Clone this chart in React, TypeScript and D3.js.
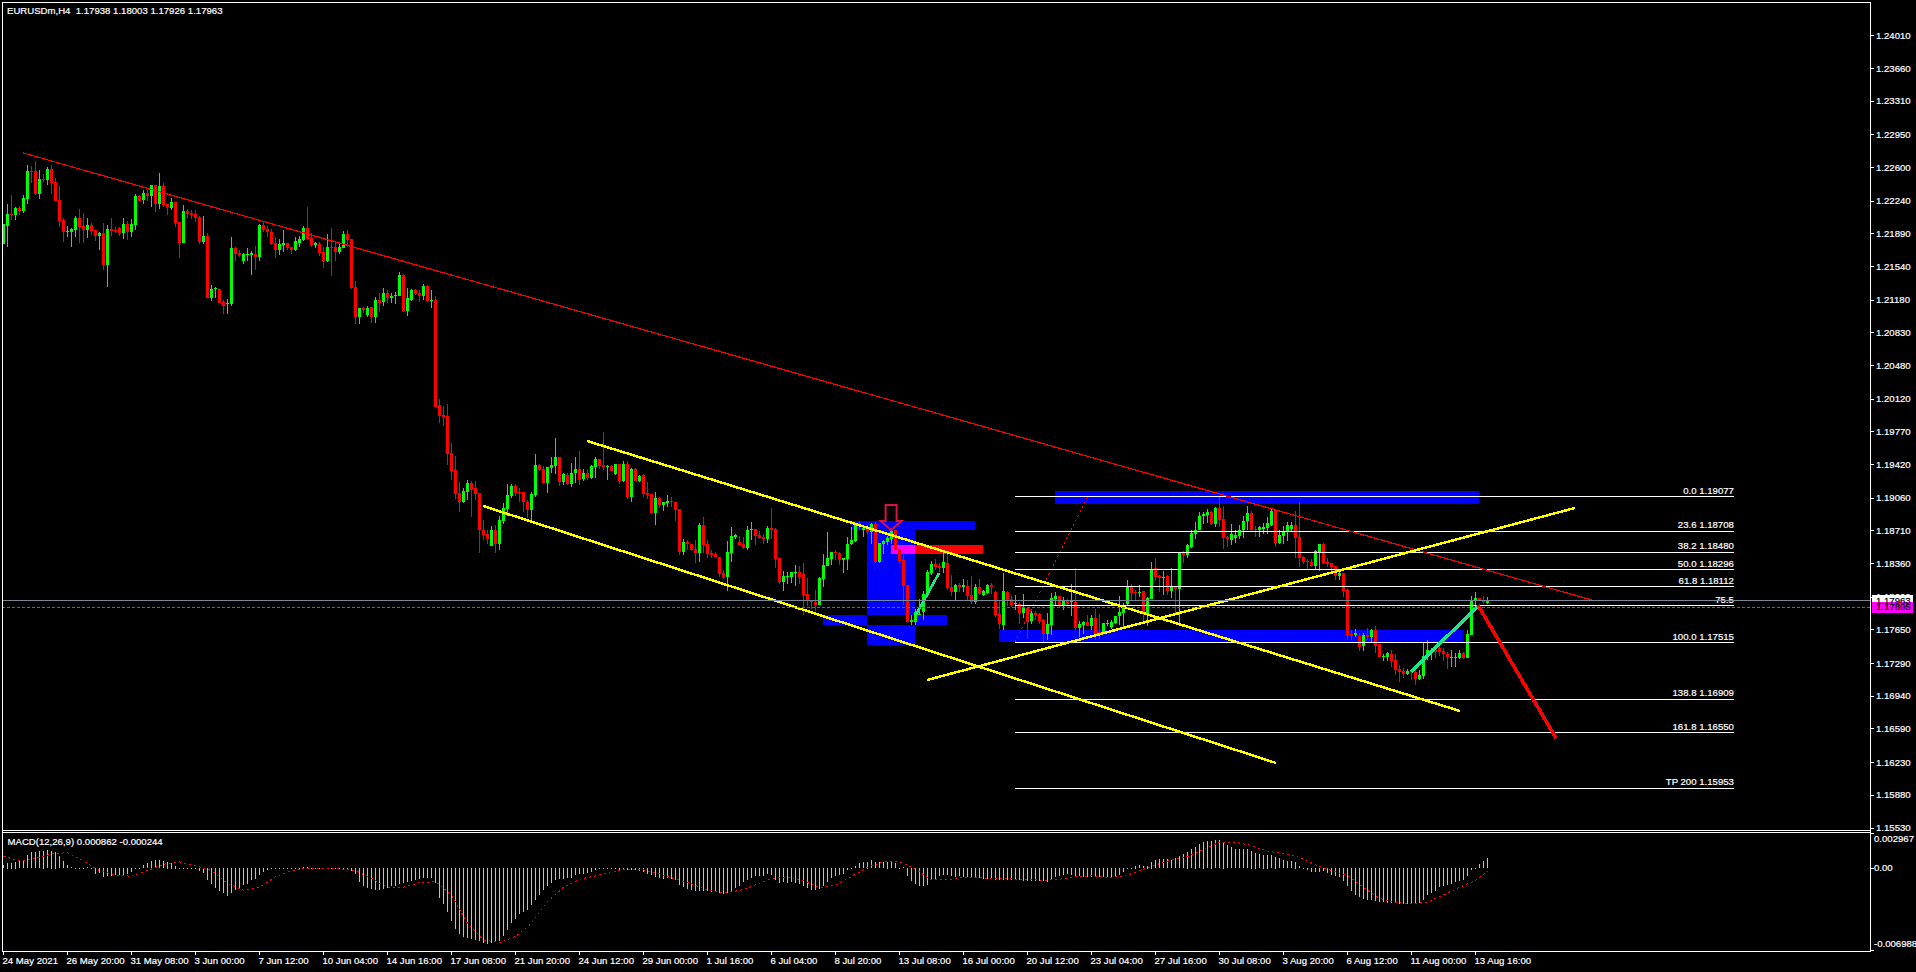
import React from 'react';
import * as d3 from 'd3';

// OHLC of each H4 bar, in pips (12199 = 1.2199)
const opens = [
  12178,12197,12210,12209,12216,12213,12226,12256,12256,12231,
  12247,12246,12258,12244,12225,12203,12191,12191,12193,12206,
  12197,12193,12198,12193,12186,12189,12155,12194,12193,12195,
  12189,12199,12190,12198,12229,12225,12232,12229,12241,12221,
  12240,12220,12216,12223,12201,12179,12213,12211,12210,12207,
  12180,12186,12120,12129,12130,12116,12113,12113,12173,12168,
  12159,12166,12166,12167,12164,12198,12194,12191,12179,12171,
  12177,12179,12174,12171,12179,12182,12195,12184,12177,12178,
  12169,12160,12174,12174,12169,12173,12188,12183,12132,12099,
  12109,12102,12110,12099,12118,12116,12125,12120,12122,12122,
  12145,12106,12118,12128,12125,12122,12133,12117,12118,
  12005,11995,11994,11954,11936,11911,11902,11912,11922,11916,
  11911,11872,11867,11854,11871,11856,11881,11894,11908,11919,
  11912,11912,11902,11893,11909,11941,11937,11922,11938,11940,
  11950,11923,11930,11921,11932,11937,11926,11933,11927,11939,
  11948,11941,11939,11940,11931,11942,11924,11942,11907,11937,
  11924,11930,11911,11910,11890,11906,11898,11900,11903,11901,
  11894,11848,11859,11857,11851,11847,11877,11856,11847,11846,
  11843,11825,11821,11847,11864,11859,11857,11852,11872,11873,
  11866,11864,11862,11874,11873,11841,11816,11821,11821,11825,
  11826,11824,11803,11796,11794,11791,11819,11833,11840,11848,
  11847,11839,11840,11856,11860,11879,11872,11873,11869,11878,
  11837,11857,11859,11862,11871,11851,11839,11813,11773,11773,
  11781,11784,11802,11825,11835,11833,11831,11836,11811,11805,
  11813,11811,11812,11802,11794,11810,11802,11804,11813,11805,
  11782,11770,11805,11798,11792,11792,11783,11788,11774,11783,
  11782,11775,11760,11770,11798,11801,11791,11797,11794,11794,
  11767,11770,11773,11769,11777,11762,11761,11771,11768,11772,
  11779,11783,11792,11811,11805,11804,11806,11782,11798,11831,
  11822,11820,11822,11806,11811,11808,11848,11845,11853,11867,
  11872,11886,11888,11891,11878,11895,11883,11864,11861,11863,
  11865,11872,11881,11890,11873,11872,11873,11874,11877,11893,
  11858,11865,11870,11873,11877,11864,11843,11838,11837,11833,
  11848,11856,11837,11836,11833,11822,11825,11807,11760,11759,
  11758,11747,11759,11757,11764,11749,11735,11736,11739,11732,
  11723,11721,11717,11721,11719,11712,11715,11736,11741,11745,
  11745,11742,11739,11735,11735,11734,11740,11734,11759,11795,
  11799,11796,11793.8,
];
const highs = [
  12199,12220,12230,12217,12218,12230,12262,12261,12267,12257,
  12253,12260,12262,12248,12240,12205,12197,12195,12208,12215,
  12211,12205,12200,12193,12191,12200,12198,12205,12196,12196,
  12205,12202,12204,12231,12230,12235,12236,12241,12241,12254,
  12243,12221,12227,12223,12201,12219,12215,12214,12214,12208,
  12208,12189,12134,12132,12130,12118,12119,12185,12175,12171,
  12168,12173,12170,12176,12199,12201,12197,12194,12185,12183,
  12193,12179,12175,12185,12186,12197,12217,12189,12180,12180,
  12174,12188,12195,12180,12178,12192,12193,12183,12138,12109,
  12110,12111,12110,12121,12125,12131,12128,12125,12126,12148,
  12146,12131,12130,12130,12128,12135,12134,12128,12122,
  12012,12004,12006,11965,11951,11923,11916,11925,11924,11924,
  11911,11882,11872,11876,11877,11886,11900,11921,11921,11921,
  11916,11912,11904,11912,11953,11942,11940,11939,11950,11970,
  11950,11933,11932,11943,11950,11956,11937,11936,11941,11950,
  11948,11976,11941,11941,11942,11942,11945,11945,11938,11938,
  11930,11931,11923,11910,11912,11907,11902,11909,11907,11902,
  11894,11862,11861,11857,11861,11879,11885,11861,11850,11848,
  11843,11829,11860,11875,11867,11865,11864,11876,11880,11873,
  11870,11867,11876,11895,11874,11841,11828,11826,11826,11834,
  11833,11836,11820,11797,11807,11821,11846,11869,11848,11850,
  11848,11842,11864,11875,11879,11881,11876,11877,11879,11880,
  11858,11861,11865,11871,11871,11852,11851,11813,11780,11787,
  11798,11806,11829,11838,11840,11836,11847,11847,11823,11814,
  11815,11819,11818,11822,11814,11819,11807,11814,11815,11806,
  11797,11825,11806,11801,11802,11794,11803,11788,11785,11785,
  11783,11776,11783,11804,11805,11801,11800,11798,11814,11831,
  11774,11774,11781,11781,11787,11782,11772,11775,11775,11779,
  11801,11793,11818,11814,11807,11813,11806,11800,11837,11842,
  11823,11828,11823,11831,11811,11848,11849,11857,11872,11880,
  11891,11891,11894,11892,11896,11908,11897,11865,11878,11871,
  11877,11887,11897,11892,11876,11876,11879,11885,11894,11893,
  11871,11876,11880,11880,11892,11901,11844,11840,11840,11850,
  11857,11858,11841,11836,11833,11827,11825,11809,11764,11765,
  11761,11761,11767,11766,11769,11749,11739,11741,11743,11739,
  11727,11724,11723,11722,11722,11722,11750,11754,11745,11748,
  11747,11745,11741,11743,11740,11743,11741,11764,11801,11805,
  11799,11801,11800.3,
];
const lows = [
  12178,12174,12203,12203,12209,12211,12220,12243,12230,12226,
  12244,12241,12231,12224,12196,12180,12185,12175,12185,12179,
  12179,12184,12187,12181,12171,12150,12132,12186,12189,12186,
  12183,12182,12185,12193,12224,12220,12224,12217,12212,12215,
  12217,12209,12214,12196,12163,12179,12205,12204,12201,12178,
  12178,12120,12117,12120,12114,12103,12103,12111,12160,12164,
  12156,12159,12144,12150,12160,12191,12185,12177,12163,12166,
  12169,12171,12167,12170,12175,12181,12182,12174,12173,12165,
  12152,12158,12143,12160,12167,12173,12174,12129,12092,12092,
  12104,12100,12093,12093,12105,12111,12115,12115,12113,12122,
  12105,12101,12117,12123,12116,12118,12116,12109,12003,
  11986,11983,11941,11925,11905,11891,11900,11904,11885,11904,
  11847,11861,11857,11854,11847,11850,11878,11886,11906,11908,
  11901,11891,11884,11882,11907,11935,11921,11911,11932,11931,
  11919,11920,11920,11917,11922,11920,11924,11925,11926,11927,
  11937,11936,11925,11935,11930,11921,11923,11905,11902,11924,
  11923,11907,11905,11889,11877,11895,11892,11896,11896,11881,
  11845,11845,11850,11849,11836,11837,11847,11841,11841,11841,
  11821,11819,11806,11837,11862,11855,11851,11850,11861,11855,
  11862,11857,11858,11862,11831,11814,11806,11814,11815,11812,
  11814,11781,11790,11787,11785,11791,11810,11833,11834,11839,
  11834,11825,11829,11855,11859,11872,11864,11867,11856,11836,
  11836,11846,11855,11857,11850,11835,11791,11772,11770,11770,
  11780,11775,11801,11823,11829,11826,11825,11807,11801,11797,
  11805,11805,11797,11792,11792,11802,11801,11803,11803,11778,
  11765,11764,11790,11789,11786,11771,11777,11755,11771,11775,
  11771,11751,11754,11759,11791,11789,11786,11791,11779,11764,
  11757,11760,11769,11764,11754,11755,11760,11769,11766,11771,
  11770,11767,11791,11797,11796,11800,11773,11769,11798,11817,
  11805,11802,11802,11799,11783,11772,11836,11841,11852,11862,
  11871,11878,11879,11877,11875,11875,11851,11853,11855,11858,
  11862,11863,11872,11871,11864,11864,11867,11867,11876,11853,
  11857,11857,11860,11870,11842,11832,11835,11830,11832,11829,
  11828,11835,11832,11827,11818,11818,11800,11754,11754,11757,
  11742,11742,11754,11752,11740,11735,11731,11731,11725,11716,
  11709,11713,11716,11711,11706,11711,11712,11732,11732,11734,
  11737,11731,11723,11725,11725,11733,11733,11734,11759,11790,
  11795,11792,11792.6,
];
const closes = [
  12199,12210,12209,12216,12213,12227,12256,12255,12231,12247,
  12246,12258,12243,12224,12202,12191,12192,12194,12206,12196,
  12193,12198,12192,12186,12189,12155,12194,12192,12192,12189,
  12199,12190,12199,12229,12224,12232,12229,12241,12221,12240,
  12219,12217,12223,12200,12179,12213,12210,12209,12206,12180,
  12186,12120,12130,12131,12115,12111,12114,12173,12167,12166,
  12167,12167,12168,12164,12198,12193,12190,12178,12171,12178,
  12179,12173,12171,12181,12183,12195,12183,12177,12179,12168,
  12160,12175,12173,12169,12174,12188,12182,12131,12099,12109,
  12107,12109,12099,12118,12115,12125,12120,12122,12123,12145,
  12106,12120,12128,12124,12122,12133,12117,12118,12003,
  11994,11993,11953,11935,11910,11902,11913,11922,11914,11910,
  11871,11866,11862,11871,11856,11882,11895,11909,11919,11911,
  11911,11901,11893,11910,11941,11936,11922,11939,11941,11950,
  11923,11931,11921,11933,11937,11925,11933,11927,11940,11948,
  11940,11939,11940,11935,11942,11924,11942,11907,11937,11924,
  11929,11910,11909,11890,11906,11898,11901,11903,11901,11893,
  11848,11859,11856,11850,11847,11877,11855,11846,11845,11843,
  11824,11821,11848,11865,11866,11855,11852,11872,11873,11865,
  11863,11862,11874,11872,11840,11816,11822,11822,11826,11826,
  11821,11802,11795,11794,11791,11820,11834,11841,11848,11847,
  11839,11841,11856,11861,11878,11876,11874,11869,11878,11837,
  11858,11860,11863,11870,11850,11838,11812,11773,11775,11784,
  11782,11803,11826,11835,11832,11831,11837,11809,11805,11813,
  11811,11813,11801,11794,11810,11803,11806,11813,11811,11781,
  11771,11806,11797,11791,11793,11783,11788,11773,11783,11781,
  11774,11760,11771,11799,11801,11791,11797,11792,11795,11767,
  11771,11773,11769,11777,11760,11760,11772,11772,11773,11779,
  11784,11789,11811,11804,11804,11805,11783,11799,11829,11821,
  11820,11821,11806,11812,11808,11848,11845,11855,11868,11872,
  11886,11889,11891,11878,11895,11882,11863,11862,11867,11866,
  11872,11881,11890,11872,11872,11875,11875,11879,11892,11858,
  11866,11870,11877,11877,11863,11842,11837,11837,11833,11849,
  11856,11836,11835,11832,11822,11825,11806,11759,11758,11761,
  11746,11759,11757,11764,11747,11735,11737,11740,11731,11722,
  11720,11717,11721,11719,11712,11716,11737,11743,11743,11741,
  11741,11739,11735,11736,11736,11740,11734,11760,11796,11799,
  11795,11794,11796.3,
];

// MACD main histogram per bar, millionths
const macdMain = [
  284,482,482,567,624,709,1134,1361,1361,1475,1503,1560,1503,1418,1049,624,284,85,57,28,
  57,85,0,-482,-425,-794,-709,-652,-624,-596,-596,-510,-312,-85,0,284,425,624,681,681,
  624,567,482,227,57,28,57,0,-28,-255,-425,-993,-1361,-1702,-1985,-2155,-2411,-2127,-1900,-1702,
  -1418,-1333,-1049,-908,-624,-369,-142,-85,-85,-57,-28,-28,-85,0,57,113,85,28,-57,-85,
  -113,-85,-85,-85,-57,-28,-85,-227,-510,-1219,-1503,-1702,-1815,-1843,-1843,-1758,-1702,-1560,-1503,-1333,
  -1276,-1191,-1106,-993,-908,-822,-822,-851,-1276,-2552,-3035,-3772,-4538,-5162,-5615,-5871,-5984,-6041,-6154,-6239,
  -6409,-6494,-6381,-6324,-6239,-5757,-5247,-4679,-4311,-3914,-3744,-3545,-3176,-2694,-2269,-1900,-1560,-1276,-1049,-936,
  -908,-879,-851,-624,-510,-510,-425,-369,-199,-113,-57,0,-57,0,-142,-85,-199,-142,-199,-284,
  -369,-482,-624,-794,-879,-908,-879,-936,-1049,-1418,-1617,-1758,-1872,-1929,-1929,-1929,-1985,-2042,-2070,-2127,
  -2212,-2127,-1985,-1730,-1503,-1219,-1049,-851,-709,-680,-709,-510,-624,-993,-1276,-1219,-1248,-1219,-1276,-1333,
  -1560,-1702,-1843,-1900,-1758,-1560,-1219,-851,-709,-567,-539,-199,-85,170,425,510,567,681,510,510,
  510,567,539,425,57,85,-652,-1078,-1333,-1560,-1560,-1418,-1049,-908,-652,-624,-624,-652,-766,-709,
  -766,-794,-794,-851,-851,-908,-908,-964,-993,-993,-993,-993,-993,-1021,-1049,-1078,-1078,-1078,-1106,-1134,
  -1134,-1163,-993,-766,-709,-567,-510,-567,-709,-709,-766,-766,-766,-766,-766,-766,-766,-766,-652,-567,
  -312,-28,28,227,284,198,227,567,709,794,794,766,709,851,1049,1219,1418,1617,1843,2042,
  2269,2326,2354,2382,2382,2184,1985,1787,1645,1617,1617,1617,1503,1333,1219,1163,1163,1134,993,851,
  709,624,624,567,198,0,-142,-312,-369,-369,-284,-454,-567,-652,-766,-1078,-1560,-1985,-2269,-2496,
  -2638,-2694,-2751,-2836,-2893,-2921,-2978,-2978,-3006,-3035,-3035,-3035,-3035,-3035,-2978,-2751,-2269,-2127,-1985,-1617,
  -1503,-1446,-1333,-1219,-1106,-993,-652,-199,-28,340,596,862,
];

// MACD signal read every 4th bar (last point is the final bar), millionths
const macdSignal = [
  1021,624,851,1219,1333,624,-199,-567,-681,-199,340,539,227,-199,-1276,-1872,-1617,-709,-199,0,
  -57,-57,-199,-851,-1645,-1617,-1219,-1134,-2269,-4679,-6097,-6324,-5814,-4679,-2836,-1617,-936,-652,-284,-85,
  -142,-482,-908,-1333,-1843,-2070,-1900,-1418,-851,-794,-1078,-1645,-1418,-709,85,539,567,-85,-993,-993,
  -766,-822,-851,-908,-964,-1021,-936,-709,-652,-766,-709,-199,284,709,993,1617,2212,2212,1928,1446,
  1276,936,284,-199,-624,-1645,-2552,-2921,-3006,-2893,-2269,-1617,-1049,-244,
];

const priceTicks = [
  1.2401,1.2366,1.2331,1.2295,1.226,1.2224,1.2189,1.2154,1.2118,1.2083,1.2048,1.2012,1.1977,
  1.1942,1.1906,1.1871,1.1836,1.18,1.1765,1.1729,1.1694,1.1659,1.1623,1.1588,1.1553,
];
const macdTicks = [
  { value: 0.002967, label: '0.002967' },
  { value: 0, label: '0.00' },
  { value: -0.006988, label: '-0.006988' },
];
const dateTicks = [
  '24 May 2021','26 May 20:00','31 May 08:00','3 Jun 00:00','7 Jun 12:00','10 Jun 04:00',
  '14 Jun 16:00','17 Jun 08:00','21 Jun 20:00','24 Jun 12:00','29 Jun 00:00','1 Jul 16:00',
  '6 Jul 04:00','8 Jul 20:00','13 Jul 08:00','16 Jul 00:00','20 Jul 12:00','23 Jul 04:00',
  '27 Jul 16:00','30 Jul 08:00','3 Aug 20:00','6 Aug 12:00','11 Aug 00:00','13 Aug 16:00',
];

// fibo levels
const fiboLabels = ['0.0 1.19077','23.6 1.18708','38.2 1.18480','50.0 1.18296','61.8 1.18112','75.5','100.0 1.17515','138.8 1.16909','161.8 1.16550','TP 200 1.15953'];
const fiboPrices = [1.19077,1.18708,1.1848,1.18296,1.18112,1.17912,1.17515,1.16909,1.1655,1.15953];
const fiboBars = [252.9, 432.6];

// chart objects as [bar, price]
const redTrend = [[4.9, 1.22752], [397.9, 1.17955]];
const channelUpper = [[145.9, 1.19668], [364.1, 1.16777]];
const channelLower = [[119.9, 1.18972], [318.1, 1.16221]];
const risingLine = [[230.9, 1.17109], [392.9, 1.18951]];
const greenSwingA = [[228.1, 1.17805], [233.9, 1.18255]];
const greenSwingB = [[351.9, 1.17195], [368.6, 1.17902]];
const redProjection = [[368.6, 1.17912], [388.1, 1.16488]];
const fiboDiagonal = [[252.9, 1.17515], [271.1, 1.19077]];

// zones: bar from, bar to, price top, price bottom
const blueZones = [
  [262.9, 368.9, 1.19133, 1.18997],
  [248.9, 364.9, 1.17645, 1.17516],
  [215.9, 227.9, 1.18726, 1.17484],
  [204.9, 235.9, 1.17805, 1.17698],
  [211.9, 242.9, 1.18812, 1.18715],
];
const redZone = [221.9, 244.9, 1.18555, 1.18458];
const sellArrow = { bar: 221.9, price: 1.18715 };

const bidPrice = 1.17963;
const askPrice = 1.17895;

const PLOT_LEFT = 2;
const AXIS_X = 1870;
const FONT = '"Liberation Sans", Arial, sans-serif';

const x = d3.scaleLinear().domain([0, 371]).range([3.5, 1487.5]);
const y = d3.scaleLinear().domain([1.1553, 1.2401]).range([827.5, 35.4]);
const yMacd = d3.scaleLinear().domain([-0.006988, 0.002967]).range([950.4, 833.4]);

const pathOf = d3.line<number[]>().x(d => x(d[0])).y(d => y(d[1]));
const signalPath = d3.line<number>()
  .x((_, i) => x(Math.min(i * 4, 371)))
  .y(d => yMacd(d / 1e6));

const Label: React.FC<{ x: number; y: number; anchor?: string; fill?: string; children: React.ReactNode }> = ({ x, y, anchor, fill, children }) => (
  <text x={x} y={y} textAnchor={anchor || 'start'} fill={fill || '#fff'} stroke={fill || '#fff'} strokeWidth={0.2} fontFamily={FONT} fontSize={9.6}>{children}</text>
);

export default function App() {
  const ay = (v: number) => Math.round(v);
  const arrowX = x(sellArrow.bar);
  const arrowY = y(sellArrow.price);
  return (
    <svg width={1916} height={972} style={{ position: 'absolute', left: 0, top: 0, background: '#000', display: 'block' }}>
      {/* zones, overlaps invert like the terminal's background objects */}
      <g style={{ isolation: 'isolate' }} shapeRendering="crispEdges">
        <rect x={0} y={0} width={1916} height={972} fill="#000" />
        {blueZones.map((z, i) => (
          <rect key={i} x={x(z[0])} y={y(z[2])} width={x(z[1]) - x(z[0])} height={y(z[3]) - y(z[2])} fill="#0000ff" style={{ mixBlendMode: 'difference' }} />
        ))}
        <rect x={x(redZone[0])} y={y(redZone[2])} width={x(redZone[1]) - x(redZone[0])} height={y(redZone[3]) - y(redZone[2])} fill="#ff0000" style={{ mixBlendMode: 'difference' }} />
      </g>

      {/* candles */}
      <g shapeRendering="crispEdges">
        {opens.map((o, i) => {
          const c = closes[i];
          const color = c >= o ? '#00ff00' : '#ff0000';
          const top = ay(y(Math.max(o, c) / 1e4));
          const bot = ay(y(Math.min(o, c) / 1e4));
          const hi = ay(y(highs[i] / 1e4));
          const lo = ay(y(lows[i] / 1e4));
          return (
            <g key={i} fill={color}>
              <rect x={x(i) - 0.5} y={hi} width={1} height={Math.max(lo - hi, 1)} />
              <rect x={x(i) - 1.5} y={top} width={3} height={Math.max(bot - top, 1)} />
            </g>
          );
        })}
      </g>

      {/* fibo */}
      <path d={pathOf(fiboDiagonal) || ''} stroke="#ff0000" strokeWidth={1} strokeDasharray="2,3" fill="none" shapeRendering="crispEdges" />
      <g shapeRendering="crispEdges">
        {fiboPrices.map((p, i) => (
          <rect key={i} x={x(fiboBars[0])} y={ay(y(p))} width={x(fiboBars[1]) - x(fiboBars[0])} height={1} fill="#fff" />
        ))}
      </g>
      {fiboPrices.map((p, i) => (
        <Label key={i} x={x(fiboBars[1])} y={y(p) - 2.5} anchor="end">{fiboLabels[i]}</Label>
      ))}

      {/* trend lines, aliased like the terminal draws them */}
      <g fill="none" shapeRendering="crispEdges">
        <path d={pathOf(redTrend) || ''} stroke="#ff0000" strokeWidth={1.2} />
        <path d={pathOf(channelUpper) || ''} stroke="#ffff00" strokeWidth={2.5} />
        <path d={pathOf(channelLower) || ''} stroke="#ffff00" strokeWidth={2.5} />
        <path d={pathOf(risingLine) || ''} stroke="#ffff00" strokeWidth={2.5} />
        <path d={pathOf(greenSwingA) || ''} stroke="#1ee68c" strokeWidth={2.5} />
        <path d={pathOf(greenSwingB) || ''} stroke="#1ee68c" strokeWidth={3.5} />
        <path d={pathOf(redProjection) || ''} stroke="#ff0000" strokeWidth={3.5} />
      </g>

      {/* sell arrow, tip sits on the zone */}
      <path
        d={`M${arrowX - 5.5},${arrowY - 25} h11 v16 h5 L${arrowX},${arrowY} L${arrowX - 10.5},${arrowY - 9} h5 Z`}
        fill="none" stroke="#dc143c" strokeWidth={2}
      />

      {/* bid / ask */}
      <g shapeRendering="crispEdges">
        <rect x={PLOT_LEFT} y={ay(y(bidPrice))} width={AXIS_X - PLOT_LEFT} height={1} fill="#778899" />
        <line x1={PLOT_LEFT} x2={AXIS_X} y1={ay(y(askPrice)) + 0.5} y2={ay(y(askPrice)) + 0.5} stroke="#ff00ff" strokeWidth={1} strokeDasharray="3,2" />
      </g>

      {/* macd */}
      <g shapeRendering="crispEdges">
        {macdMain.map((v, i) => {
          const y0 = yMacd(0);
          const y1 = yMacd(v / 1e6);
          return <rect key={i} x={x(i) - 0.5} y={ay(Math.min(y0, y1))} width={1} height={Math.max(ay(Math.abs(y1 - y0)), 1)} fill="#c0c0c0" />;
        })}
      </g>
      <path d={signalPath(macdSignal) || ''} stroke="#ff0000" strokeWidth={1} strokeDasharray="2,3" fill="none" shapeRendering="crispEdges" />

      {/* frame */}
      <g fill="#fff" shapeRendering="crispEdges">
        <rect x={PLOT_LEFT} y={2} width={AXIS_X - PLOT_LEFT} height={1} />
        <rect x={PLOT_LEFT} y={2} width={1} height={950} />
        <rect x={AXIS_X} y={2} width={1} height={950} />
        <rect x={PLOT_LEFT} y={830} width={AXIS_X - PLOT_LEFT} height={1} />
        <rect x={PLOT_LEFT} y={832} width={AXIS_X - PLOT_LEFT} height={1} />
        <rect x={PLOT_LEFT} y={951} width={AXIS_X - PLOT_LEFT + 1} height={1} />
        {priceTicks.map((p, i) => <rect key={i} x={AXIS_X + 1} y={ay(y(p))} width={3} height={1} />)}
        {macdTicks.map((t, i) => <rect key={i} x={AXIS_X + 1} y={ay(yMacd(t.value))} width={3} height={1} />)}
        {dateTicks.map((_, i) => <rect key={i} x={x(i * 16) - 0.5} y={952} width={1} height={3} />)}
      </g>

      {/* axis labels */}
      {priceTicks.map((p, i) => (
        <Label key={i} x={AXIS_X + 6} y={y(p) + 3.5}>{p.toFixed(5)}</Label>
      ))}
      {macdTicks.map((t, i) => (
        <Label key={i} x={AXIS_X + 4} y={yMacd(t.value) + (i === 0 ? 8.5 : i === 1 ? 3 : -3)}>{t.label}</Label>
      ))}
      {dateTicks.map((t, i) => (
        <Label key={i} x={x(i * 16) - 1} y={964}>{t}</Label>
      ))}

      {/* price tags */}
      <g shapeRendering="crispEdges">
        <rect x={AXIS_X + 2} y={ay(y(bidPrice)) - 5} width={41} height={11} fill="#fff" />
        <rect x={AXIS_X + 2} y={ay(y(askPrice)) - 5} width={41} height={11} fill="#ff00ff" />
      </g>
      <Label x={AXIS_X + 6} y={y(bidPrice) + 3.5} fill="#000">{bidPrice.toFixed(5)}</Label>
      <Label x={AXIS_X + 6} y={y(askPrice) + 3.5} fill="#000">{askPrice.toFixed(5)}</Label>

      <Label x={7} y={14}>EURUSDm,H4&#160;&#160;1.17938 1.18003 1.17926 1.17963</Label>
      <Label x={7.5} y={844.5}>MACD(12,26,9) 0.000862 -0.000244</Label>
    </svg>
  );
}
